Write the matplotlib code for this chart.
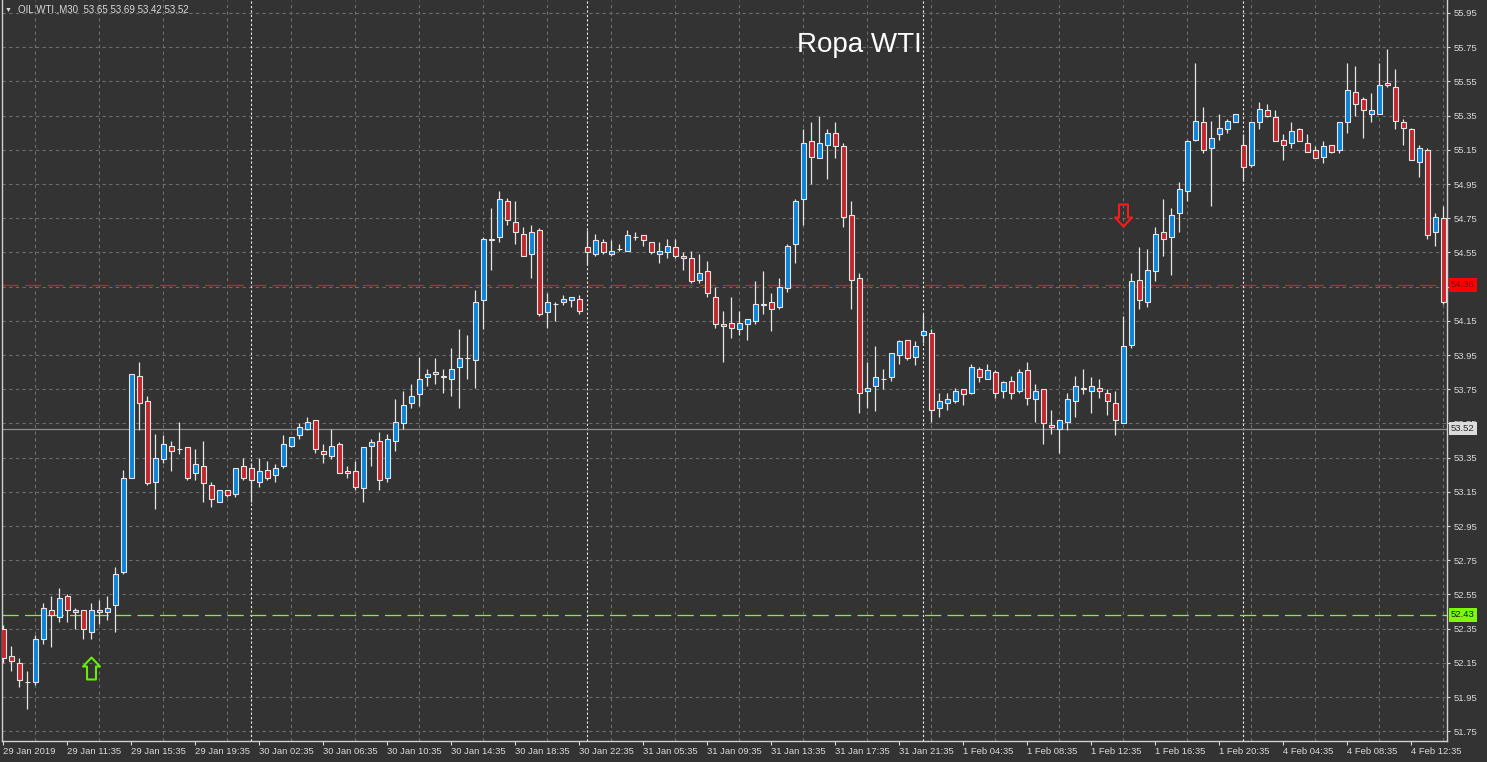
import numpy as np
import matplotlib.pyplot as plt
from matplotlib.path import Path
from matplotlib.transforms import blended_transform_factory

plt.rcParams['font.family'] = ['Liberation Sans', 'DejaVu Sans']

# M30 bars, OIL.WTI, 29 Jan 2019 -> 4 Feb 2019
opens = [
    52.35, 52.19, 52.15, 52.04, 52.04, 52.29, 52.46, 52.42, 52.54, 52.45,
    52.46, 52.33, 52.45, 52.45, 52.49, 52.68, 53.23, 53.83, 53.68, 53.21,
    53.34, 53.42, 53.40, 53.41, 53.26, 53.30, 53.19, 53.09, 53.16, 53.14,
    53.30, 53.29, 53.21, 53.28, 53.25, 53.30, 53.42, 53.48, 53.52, 53.57,
    53.39, 53.36, 53.43, 53.27, 53.27, 53.17, 53.42, 53.45, 53.23, 53.45,
    53.55, 53.67, 53.72, 53.82, 53.85, 53.83, 53.81, 53.88, 53.93, 53.92,
    54.27, 54.62, 54.64, 54.85, 54.73, 54.66, 54.54, 54.68, 54.20, 54.25,
    54.26, 54.27, 54.28, 54.58, 54.54, 54.61, 54.54, 54.57, 54.56, 54.64,
    54.65, 54.61, 54.54, 54.55, 54.58, 54.52, 54.52, 54.39, 54.44, 54.29,
    54.12, 54.14, 54.10, 54.13, 54.15, 54.24, 54.26, 54.23, 54.34, 54.60,
    54.86, 55.20, 55.10, 55.18, 55.25, 55.17, 54.77, 54.40, 53.74, 53.77,
    53.81, 53.82, 53.95, 54.04, 53.94, 54.07, 54.08, 53.64, 53.67, 53.68,
    53.75, 53.73, 53.87, 53.81, 53.85, 53.74, 53.80, 53.74, 53.86, 53.69,
    53.75, 53.54, 53.52, 53.56, 53.68, 53.76, 53.74, 53.76, 53.73, 53.67,
    53.55, 54.01, 54.39, 54.26, 54.44, 54.67, 54.64, 54.78, 54.91, 55.21,
    55.31, 55.16, 55.24, 55.27, 55.31, 55.18, 55.06, 55.31, 55.38, 55.34,
    55.21, 55.19, 55.27, 55.19, 55.15, 55.11, 55.18, 55.15, 55.31, 55.49,
    55.45, 55.36, 55.36, 55.54, 55.52, 55.31, 55.27, 55.08, 55.15, 54.67, 54.75,
]
highs = [
    52.37, 52.25, 52.18, 52.10, 52.31, 52.50, 52.54, 52.59, 52.55, 52.47,
    52.46, 52.50, 52.52, 52.54, 52.71, 53.28, 53.84, 53.91, 53.71, 53.49,
    53.48, 53.45, 53.56, 53.41, 53.40, 53.45, 53.21, 53.16, 53.16, 53.29,
    53.35, 53.32, 53.35, 53.33, 53.31, 53.48, 53.47, 53.55, 53.59, 53.57,
    53.43, 53.52, 53.44, 53.30, 53.33, 53.41, 53.46, 53.50, 53.49, 53.69,
    53.74, 53.78, 53.94, 53.87, 53.93, 53.87, 53.99, 54.10, 54.07, 54.33,
    54.64, 54.81, 54.91, 54.87, 54.85, 54.70, 54.71, 54.69, 54.31, 54.26,
    54.30, 54.29, 54.30, 54.68, 54.66, 54.63, 54.62, 54.60, 54.68, 54.67,
    54.65, 54.61, 54.61, 54.63, 54.63, 54.55, 54.56, 54.54, 54.50, 54.35,
    54.21, 54.29, 54.21, 54.16, 54.38, 54.44, 54.31, 54.40, 54.60, 54.86,
    55.27, 55.31, 55.35, 55.27, 55.31, 55.19, 54.85, 54.43, 53.91, 54.00,
    53.87, 53.96, 54.04, 54.04, 54.03, 54.19, 54.10, 53.73, 53.73, 53.76,
    53.75, 53.90, 53.88, 53.90, 53.86, 53.80, 53.83, 53.87, 53.91, 53.78,
    53.75, 53.63, 53.57, 53.73, 53.83, 53.87, 53.82, 53.81, 53.75, 53.74,
    54.18, 54.43, 54.58, 54.57, 54.70, 54.86, 54.81, 54.96, 55.21, 55.66,
    55.40, 55.32, 55.36, 55.33, 55.36, 55.24, 55.31, 55.43, 55.42, 55.38,
    55.24, 55.31, 55.28, 55.24, 55.17, 55.20, 55.18, 55.31, 55.66, 55.64,
    55.46, 55.48, 55.66, 55.74, 55.62, 55.33, 55.28, 55.18, 55.16, 54.78, 54.82,
]
lows = [
    52.15, 52.10, 52.01, 51.88, 52.02, 52.26, 52.24, 52.39, 52.39, 52.35,
    52.29, 52.29, 52.38, 52.40, 52.33, 52.67, 53.23, 53.51, 53.19, 53.05,
    53.32, 53.27, 53.37, 53.22, 53.22, 53.09, 53.06, 53.09, 53.12, 53.12,
    53.22, 53.09, 53.18, 53.22, 53.21, 53.29, 53.41, 53.46, 53.51, 53.38,
    53.32, 53.34, 53.26, 53.23, 53.16, 53.09, 53.30, 53.16, 53.21, 53.39,
    53.52, 53.64, 53.65, 53.77, 53.78, 53.73, 53.71, 53.64, 53.81, 53.76,
    54.10, 54.45, 54.61, 54.71, 54.60, 54.53, 54.40, 54.18, 54.11, 54.15,
    54.24, 54.23, 54.19, 54.48, 54.53, 54.54, 54.53, 54.56, 54.56, 54.62,
    54.59, 54.54, 54.49, 54.52, 54.52, 54.45, 54.37, 54.37, 54.29, 54.11,
    53.91, 54.05, 54.07, 54.04, 54.13, 54.19, 54.09, 54.22, 54.32, 54.49,
    54.71, 54.95, 55.10, 54.98, 55.10, 54.70, 54.22, 53.61, 53.64, 53.62,
    53.75, 53.80, 53.90, 53.92, 53.89, 54.02, 53.56, 53.59, 53.63, 53.67,
    53.66, 53.72, 53.79, 53.81, 53.70, 53.70, 53.69, 53.73, 53.66, 53.56,
    53.43, 53.49, 53.38, 53.51, 53.59, 53.72, 53.61, 53.70, 53.60, 53.48,
    53.55, 53.99, 54.22, 54.23, 54.38, 54.53, 54.42, 54.67, 54.85, 55.20,
    55.13, 54.82, 55.21, 55.25, 55.31, 54.97, 55.05, 55.27, 55.34, 55.20,
    55.09, 55.16, 55.20, 55.14, 55.10, 55.07, 55.13, 55.13, 55.25, 55.35,
    55.22, 55.31, 55.36, 55.52, 55.27, 55.18, 55.09, 54.99, 54.63, 54.59, 54.25,
]
closes = [
    52.18, 52.16, 52.05, 52.04, 52.29, 52.47, 52.43, 52.53, 52.46, 52.46,
    52.35, 52.46, 52.46, 52.47, 52.67, 53.23, 53.84, 53.67, 53.20, 53.35,
    53.43, 53.39, 53.40, 53.23, 53.31, 53.20, 53.11, 53.16, 53.13, 53.29,
    53.23, 53.22, 53.27, 53.23, 53.29, 53.43, 53.47, 53.53, 53.56, 53.40,
    53.37, 53.42, 53.26, 53.26, 53.18, 53.41, 53.44, 53.22, 53.46, 53.56,
    53.66, 53.71, 53.81, 53.84, 53.84, 53.82, 53.87, 53.93, 53.93, 54.26,
    54.63, 54.63, 54.86, 54.74, 54.67, 54.53, 54.67, 54.19, 54.26, 54.25,
    54.28, 54.29, 54.21, 54.55, 54.62, 54.55, 54.56, 54.57, 54.65, 54.64,
    54.62, 54.55, 54.56, 54.59, 54.53, 54.53, 54.38, 54.43, 54.31, 54.13,
    54.13, 54.11, 54.14, 54.16, 54.25, 54.25, 54.22, 54.35, 54.59, 54.85,
    55.19, 55.11, 55.19, 55.25, 55.17, 54.76, 54.39, 53.73, 53.76, 53.82,
    53.81, 53.96, 54.03, 53.93, 54.00, 54.09, 53.63, 53.68, 53.69, 53.74,
    53.72, 53.88, 53.82, 53.86, 53.73, 53.79, 53.73, 53.85, 53.70, 53.74,
    53.55, 53.53, 53.57, 53.69, 53.77, 53.75, 53.77, 53.74, 53.68, 53.57,
    54.00, 54.38, 54.27, 54.45, 54.66, 54.63, 54.77, 54.92, 55.20, 55.32,
    55.15, 55.22, 55.28, 55.32, 55.36, 55.05, 55.31, 55.39, 55.35, 55.20,
    55.18, 55.26, 55.20, 55.14, 55.10, 55.17, 55.14, 55.31, 55.50, 55.42,
    55.38, 55.38, 55.53, 55.53, 55.32, 55.28, 55.09, 55.16, 54.65, 54.76, 54.26,
]

# time axis labels (every 8 bars)
time_label_bars = [0, 8, 16, 24, 32, 40, 48, 56, 64, 72, 80, 88,
                   96, 104, 112, 120, 128, 136, 144, 152, 160, 168, 176]
time_labels = ['29 Jan 2019', '29 Jan 11:35', '29 Jan 15:35', '29 Jan 19:35',
               '30 Jan 02:35', '30 Jan 06:35', '30 Jan 10:35', '30 Jan 14:35',
               '30 Jan 18:35', '30 Jan 22:35', '31 Jan 05:35', '31 Jan 09:35',
               '31 Jan 13:35', '31 Jan 17:35', '31 Jan 21:35', '1 Feb 04:35',
               '1 Feb 08:35', '1 Feb 12:35', '1 Feb 16:35', '1 Feb 20:35',
               '4 Feb 04:35', '4 Feb 08:35', '4 Feb 12:35']
price_ticks = [51.75, 51.95, 52.15, 52.35, 52.55, 52.75, 52.95, 53.15, 53.35,
               53.55, 53.75, 53.95, 54.15, 54.35, 54.55, 54.75, 54.95, 55.15,
               55.35, 55.55, 55.75, 55.95]
day_start_bars = [31, 73, 115, 155]

# horizontal levels: price, line colour, label bg, label text colour, style
level_prices = [52.43, 54.36, 53.52]
level_colors = ['#7cfc00', '#ff1010', '#8c8c8c']
level_label_bg = ['#7cfc00', '#ff0000', '#dcdcdc']
level_label_fg = ['#1a1a1a', '#7a0000', '#2a2a2a']
level_styles = [(0, (13, 5)), (0, (13, 5)), '-']

# signal arrows: bar index, price, direction
signal_bars = [11, 140]
signal_prices = [52.12, 54.77]
signal_dirs = ['up', 'down']

BG = '#333333'
GRID = '#6c6c6c'
EDGE = '#e4e4e4'
BULL = '#0a84d8'
BEAR = '#c1272d'
TXT = '#d8d8d8'

fig = plt.figure(figsize=(14.87, 7.62), dpi=100, facecolor=BG)
ax = fig.add_axes([2.3 / 1487, 21 / 762, (1447 - 2.3) / 1487, 741 / 762],
                  facecolor=BG)

o, h, l, c = map(np.array, (opens, highs, lows, closes))
idx = np.arange(len(o))
up = c >= o

ax.vlines(idx, l, h, color=EDGE, lw=0.9, zorder=3)
ax.bar(idx, np.abs(c - o), bottom=np.minimum(o, c), width=0.64,
       color=np.where(up, BULL, BEAR), edgecolor=EDGE, linewidth=0.8,
       zorder=4)

# grid
ax.set_yticks(price_ticks)
ax.set_yticklabels([f'{p:.2f}' for p in price_ticks])
ax.set_xticks(time_label_bars)
ax.set_xticklabels(time_labels)
ax.set_xticks(np.arange(0, 181, 4), minor=True)
ax.yaxis.grid(True, which='major', color=GRID, ls=(0, (3, 3)), lw=0.8)
ax.xaxis.grid(True, which='minor', color=GRID, ls=(0, (3, 3)), lw=0.8)
ax.set_axisbelow(True)

for d in day_start_bars:
    ax.axvline(d, color='#eeeeee', ls=(0, (2, 2)), lw=0.8, zorder=1)

trans = blended_transform_factory(ax.transAxes, ax.transData)
for p, lc, bg, fg, st in zip(level_prices, level_colors, level_label_bg,
                             level_label_fg, level_styles):
    ax.axhline(p, color=lc, ls=st, lw=0.9, zorder=2)
    ax.annotate(f'{p:.2f}', xy=(1, p), xycoords=trans, xytext=(3, 0),
                textcoords='offset points', ha='left', va='center',
                fontsize=6.8, color=fg, annotation_clip=False, zorder=10,
                bbox=dict(boxstyle='square,pad=0.25', fc=bg, ec='none'))

# arrow marker shapes
up_arrow = Path([(0, 11), (8.5, 2), (4.5, 2), (4.5, -11), (-4.5, -11),
                 (-4.5, 2), (-8.5, 2), (0, 11)], closed=True)
down_arrow = Path([(0, -11), (8.5, -2), (4.5, -2), (4.5, 11), (-4.5, 11),
                   (-4.5, -2), (-8.5, -2), (0, -11)], closed=True)
for b, p, d in zip(signal_bars, signal_prices, signal_dirs):
    col = '#66ee00' if d == 'up' else '#ff1a1a'
    ax.plot(b, p, marker=up_arrow if d == 'up' else down_arrow,
            markersize=15.8, mfc='none', mec=col, mew=1.5, zorder=6)

ax.set_xlim(-0.125, 180.46)
ax.set_ylim(51.693, 56.026)

ax.yaxis.tick_right()
ax.tick_params(axis='y', which='major', colors=TXT, labelsize=6.8,
               length=2.5, width=0.8, pad=2.5)
ax.tick_params(axis='x', which='major', colors=TXT, labelsize=6.8,
               length=3, width=0.8, pad=1.5)
ax.tick_params(axis='x', which='minor', length=0)
for lbl in ax.get_xticklabels():
    lbl.set_ha('left')

ax.spines['top'].set_visible(False)
for s in ('left', 'right', 'bottom'):
    ax.spines[s].set_color('#d0d0d0')
    ax.spines[s].set_linewidth(1)

# header and title
fig.text(8 / 1487, 1 - 10 / 762, '\u25bc', fontsize=5, color=TXT,
         ha='center', va='center')
fig.text(18 / 1487, 1 - 10 / 762, 'OIL.WTI.,M30  53.65 53.69 53.42 53.52',
         fontsize=7, color=TXT, ha='left', va='center')
fig.text(859 / 1487, 1 - 45 / 762, 'Ropa WTI', fontsize=20, color='white',
         ha='center', va='center')

fig.savefig('out.png', dpi=100, facecolor=BG)
